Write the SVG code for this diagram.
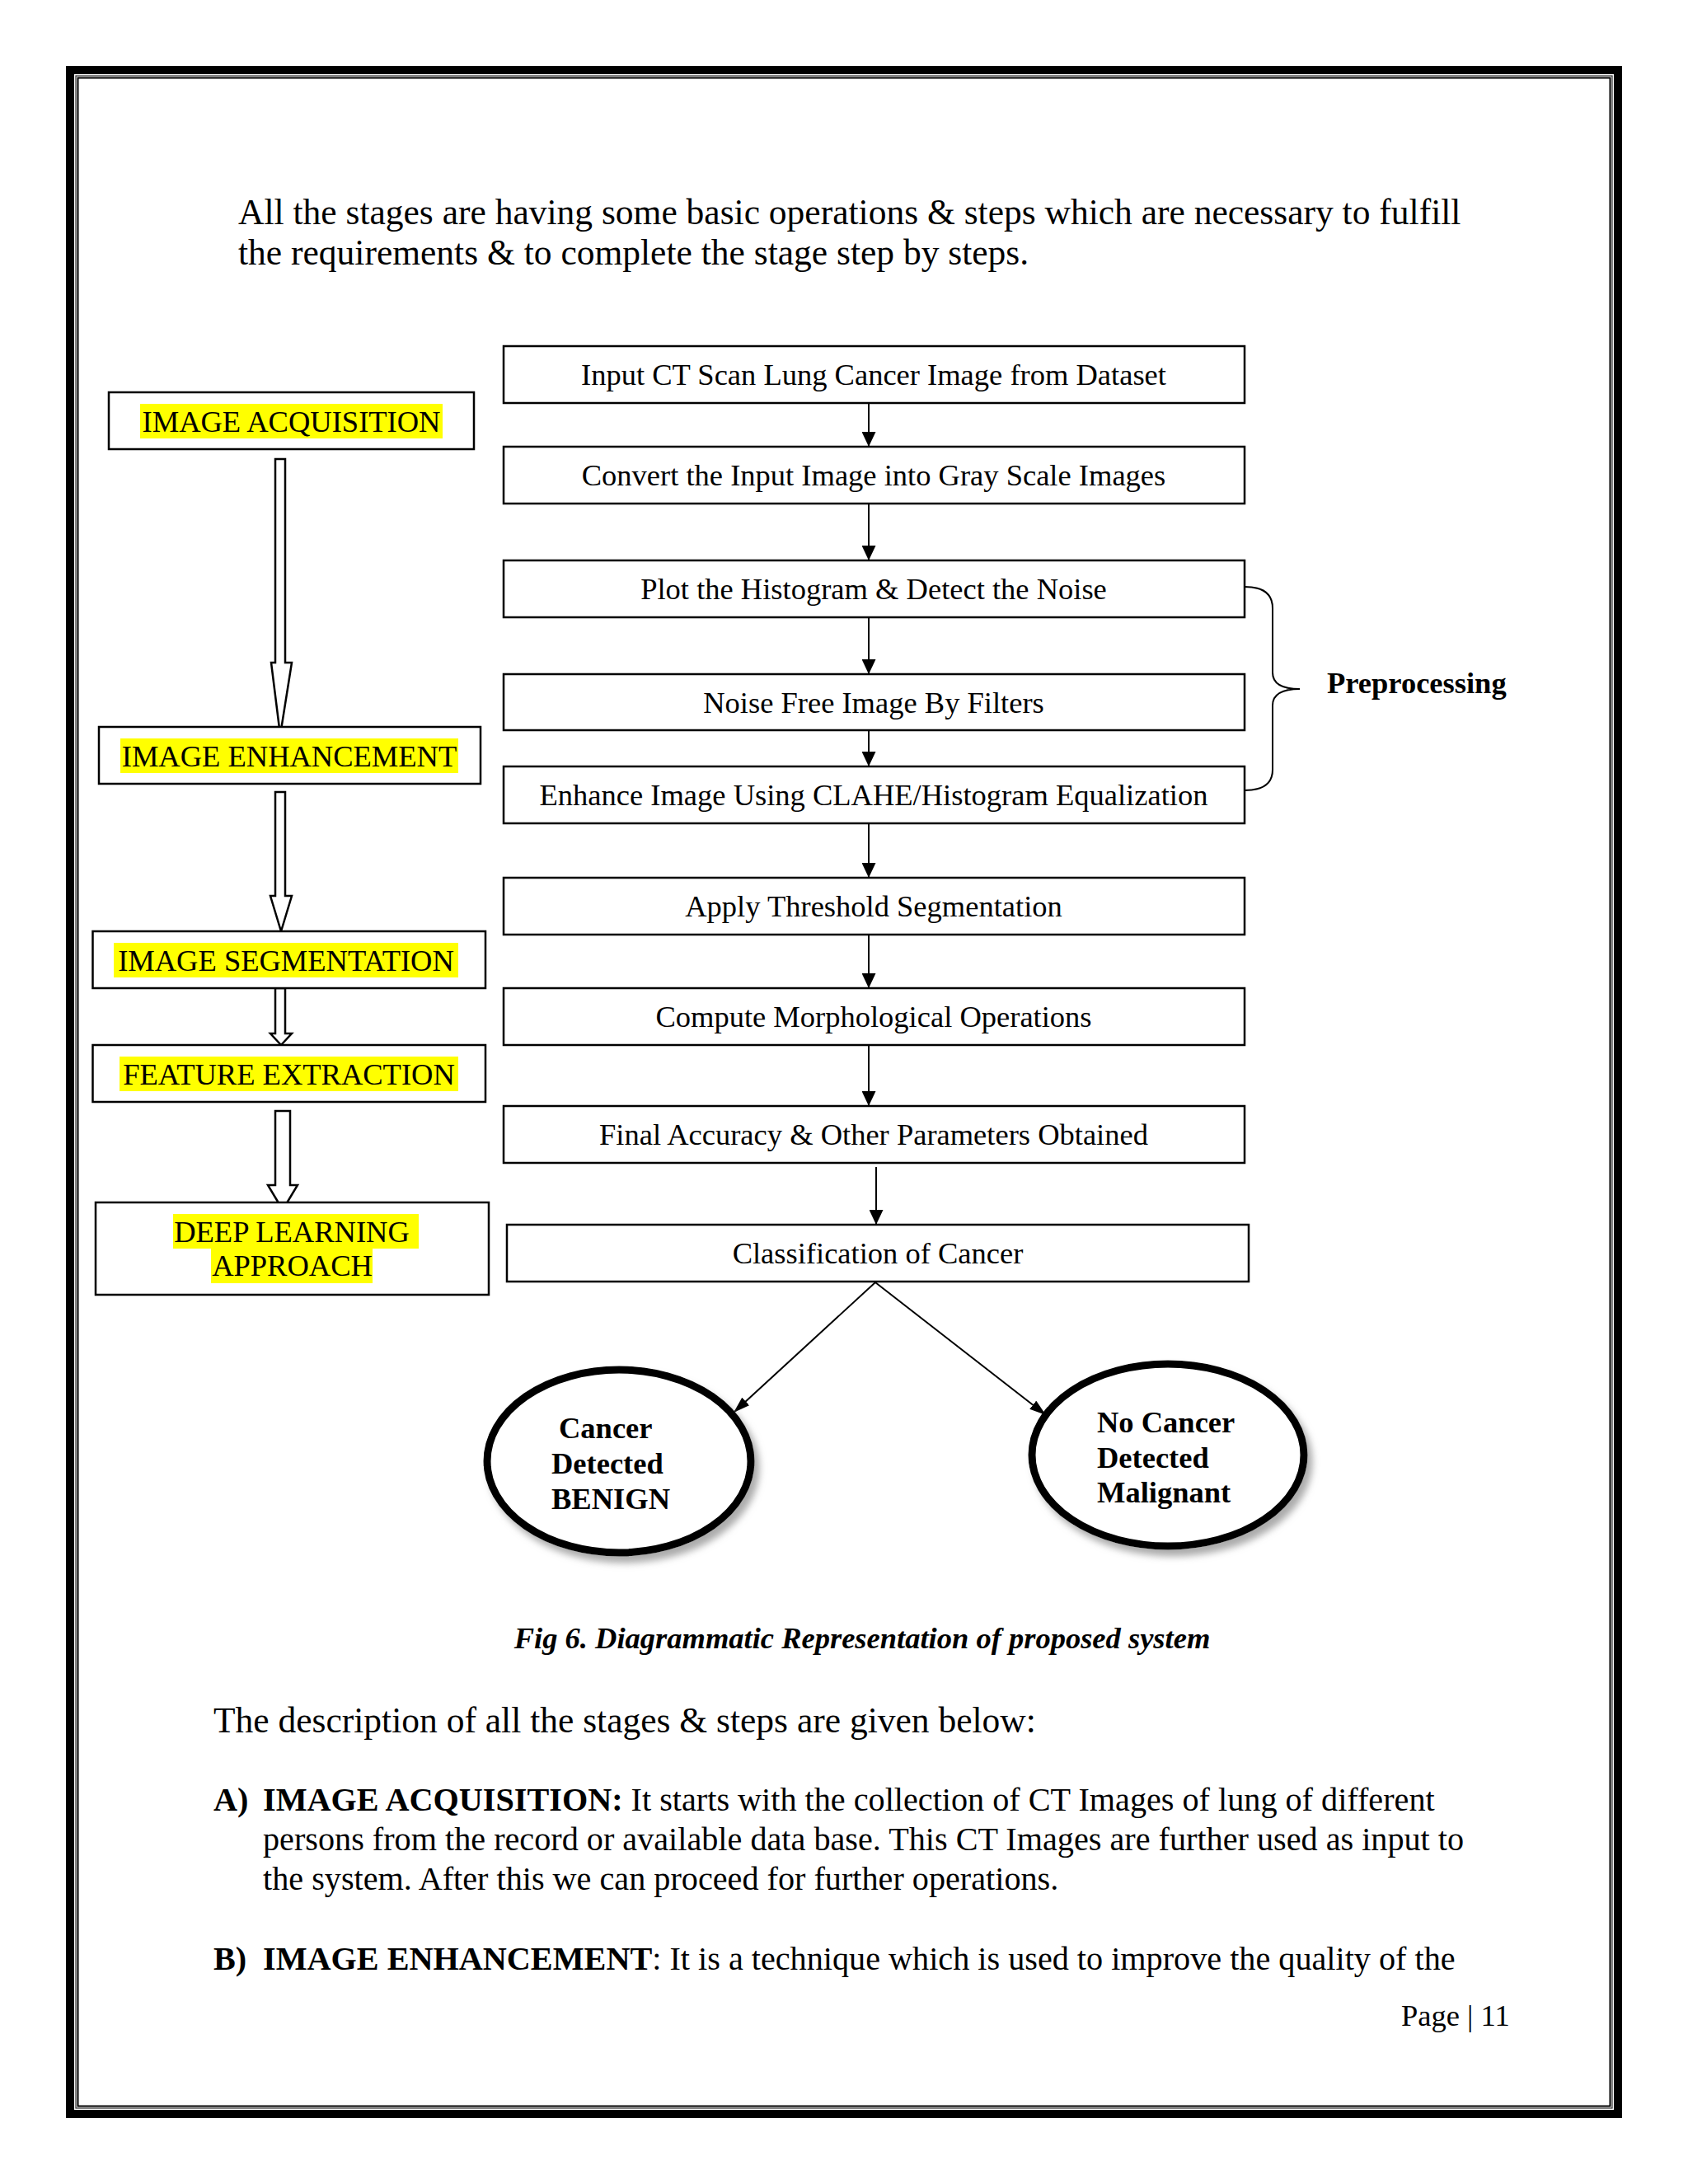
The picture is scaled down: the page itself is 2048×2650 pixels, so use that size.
<svg xmlns="http://www.w3.org/2000/svg" width="2048" height="2650" viewBox="0 0 2048 2650">
<style>
  .serif { font-family: "Liberation Serif", "Times New Roman", serif; fill: #000; }
  .body { font-size: 43.5px; }
  .para { font-size: 40.2px; }
  .lbl { font-size: 36.5px; }
  .b { font-weight: bold; }
  .box { fill: #fff; stroke: #000; stroke-width: 2.5; }
  .hl { fill: #ffff00; }
  .hollow { fill: #fff; stroke: #000; stroke-width: 2.5; stroke-linejoin: miter; }
  .conn { stroke: #000; stroke-width: 2; fill: none; }
  .ell { fill: #fff; stroke: #000; stroke-width: 9; }
</style>
<defs>
  <marker id="ah" viewBox="0 0 18 17" refX="18" refY="8.5" markerWidth="18" markerHeight="17" markerUnits="userSpaceOnUse" orient="auto">
    <path d="M0,0 L18,8.5 L0,17 z" fill="#000"/>
  </marker>
  <marker id="ahd" viewBox="0 0 20 13" refX="20" refY="6.5" markerWidth="20" markerHeight="13" markerUnits="userSpaceOnUse" orient="auto">
    <path d="M0,0 L20,6.5 L0,13 z" fill="#000"/>
  </marker>
  <filter id="sh" x="-20%" y="-20%" width="150%" height="150%">
    <feDropShadow dx="6" dy="8" stdDeviation="4" flood-color="#888" flood-opacity="0.7"/>
  </filter>
</defs>

<rect x="0" y="0" width="2048" height="2650" fill="#fff"/>

<!-- page frame -->
<g id="frame" fill="none">
  <rect x="85" y="85" width="1878" height="2480" stroke="#000" stroke-width="10"/>
  <rect x="92" y="92" width="1864" height="2466" stroke="#333" stroke-width="1.2"/>
  <rect x="94.5" y="94.5" width="1859" height="2461" stroke="#000" stroke-width="2"/>
</g>

<!-- intro text -->
<g id="intro" class="serif body">
  <text x="289" y="272">All the stages are having some basic operations &amp; steps which are necessary to fulfill</text>
  <text x="289" y="321">the requirements &amp; to complete the stage step by steps.</text>
</g>

<!-- connectors -->
<g id="connectors">
  <line class="conn" x1="1054" y1="489" x2="1054" y2="542" marker-end="url(#ah)"/>
  <line class="conn" x1="1054" y1="611" x2="1054" y2="680" marker-end="url(#ah)"/>
  <line class="conn" x1="1054" y1="749" x2="1054" y2="818" marker-end="url(#ah)"/>
  <line class="conn" x1="1054" y1="886" x2="1054" y2="930" marker-end="url(#ah)"/>
  <line class="conn" x1="1054" y1="999" x2="1054" y2="1065" marker-end="url(#ah)"/>
  <line class="conn" x1="1054" y1="1134" x2="1054" y2="1199" marker-end="url(#ah)"/>
  <line class="conn" x1="1054" y1="1268" x2="1054" y2="1342" marker-end="url(#ah)"/>
  <line class="conn" x1="1063" y1="1416" x2="1063" y2="1486" marker-end="url(#ah)"/>
  <line class="conn" x1="1062" y1="1556" x2="890" y2="1714" marker-end="url(#ahd)"/>
  <line class="conn" x1="1062" y1="1556" x2="1269" y2="1717" marker-end="url(#ahd)"/>
  <!-- hollow block arrows (stages) -->
  <path class="hollow" d="M334,557 L346,557 L346,804 L354,804 L340,892 L329,804 L334,804 Z"/>
  <path class="hollow" d="M334,961 L346,961 L346,1087 L354,1087 L341,1130 L328,1087 L334,1087 Z"/>
  <path class="hollow" d="M334,1199 L346,1199 L346,1254 L354,1254 L341,1268 L328,1254 L334,1254 Z"/>
  <path class="hollow" d="M334,1348 L352,1348 L352,1438 L361,1438 L343,1468 L325,1438 L334,1438 Z"/>
  <!-- preprocessing brace -->
  <path class="conn" stroke-width="2.5" d="M1510,712 Q1544,712 1544,738 L1544,816 Q1544,836 1577,836 Q1544,836 1544,856 L1544,934 Q1544,959 1510,959"/>
</g>

<!-- left stage column -->
<g id="stage-acquisition">
  <rect class="box" x="132" y="476" width="443" height="69"/>
  <rect class="hl" x="170" y="490" width="367" height="42"/>
  <text class="serif lbl" x="353.5" y="524" text-anchor="middle">IMAGE ACQUISITION</text>
</g>
<g id="stage-enhancement">
  <rect class="box" x="120" y="882" width="463" height="69"/>
  <rect class="hl" x="146" y="896" width="410" height="42"/>
  <text class="serif lbl" x="351" y="930" text-anchor="middle">IMAGE ENHANCEMENT</text>
</g>
<g id="stage-segmentation">
  <rect class="box" x="112.5" y="1130" width="476.5" height="69"/>
  <rect class="hl" x="138" y="1144" width="418" height="42"/>
  <text class="serif lbl" x="347" y="1178" text-anchor="middle">IMAGE SEGMENTATION</text>
</g>
<g id="stage-feature">
  <rect class="box" x="112.5" y="1268" width="476.5" height="69"/>
  <rect class="hl" x="145" y="1282" width="411" height="42"/>
  <text class="serif lbl" x="350.5" y="1316" text-anchor="middle">FEATURE EXTRACTION</text>
</g>
<g id="stage-deep">
  <rect class="box" x="116" y="1459" width="477" height="112"/>
  <rect class="hl" x="210" y="1473" width="298" height="42"/>
  <rect class="hl" x="256" y="1515" width="196" height="42"/>
  <text class="serif lbl" x="354" y="1507" text-anchor="middle">DEEP LEARNING</text>
  <text class="serif lbl" x="354.5" y="1548" text-anchor="middle">APPROACH</text>
</g>

<!-- right step column -->
<g id="step-input">
  <rect class="box" x="611" y="420" width="899" height="69"/>
  <text class="serif lbl" x="1060" y="467" text-anchor="middle">Input CT Scan Lung Cancer Image from Dataset</text>
</g>
<g id="step-gray">
  <rect class="box" x="611" y="542" width="899" height="69"/>
  <text class="serif lbl" x="1060" y="589" text-anchor="middle">Convert the Input Image into Gray Scale Images</text>
</g>
<g id="step-histogram">
  <rect class="box" x="611" y="680" width="899" height="69"/>
  <text class="serif lbl" x="1060" y="727" text-anchor="middle">Plot the Histogram &amp; Detect the Noise</text>
</g>
<g id="step-filter">
  <rect class="box" x="611" y="818" width="899" height="68"/>
  <text class="serif lbl" x="1060" y="865" text-anchor="middle">Noise Free Image By Filters</text>
</g>
<g id="step-clahe">
  <rect class="box" x="611" y="930" width="899" height="69"/>
  <text class="serif lbl" x="1060" y="977" text-anchor="middle">Enhance Image Using CLAHE/Histogram Equalization</text>
</g>
<g id="step-threshold">
  <rect class="box" x="611" y="1065" width="899" height="69"/>
  <text class="serif lbl" x="1060" y="1112" text-anchor="middle">Apply Threshold Segmentation</text>
</g>
<g id="step-morph">
  <rect class="box" x="611" y="1199" width="899" height="69"/>
  <text class="serif lbl" x="1060" y="1246" text-anchor="middle">Compute Morphological Operations</text>
</g>
<g id="step-accuracy">
  <rect class="box" x="611" y="1342" width="899" height="69"/>
  <text class="serif lbl" x="1060" y="1389" text-anchor="middle">Final Accuracy &amp; Other Parameters Obtained</text>
</g>
<g id="step-classify">
  <rect class="box" x="615" y="1486" width="900" height="69"/>
  <text class="serif lbl" x="1065" y="1533" text-anchor="middle">Classification of Cancer</text>
</g>

<g id="label-preprocessing">
  <text class="serif lbl b" x="1610" y="841">Preprocessing</text>
</g>

<!-- outcomes -->
<g id="outcome-benign">
  <ellipse class="ell" cx="751" cy="1773" rx="160" ry="111" filter="url(#sh)"/>
  <text class="serif lbl b" x="678" y="1745">Cancer</text>
  <text class="serif lbl b" x="669" y="1788">Detected</text>
  <text class="serif lbl b" x="669" y="1831">BENIGN</text>
</g>
<g id="outcome-malignant">
  <ellipse class="ell" cx="1417" cy="1765.5" rx="165" ry="110.5" filter="url(#sh)"/>
  <text class="serif lbl b" x="1331" y="1738">No Cancer</text>
  <text class="serif lbl b" x="1331" y="1781">Detected</text>
  <text class="serif lbl b" x="1331" y="1823">Malignant</text>
</g>

<!-- caption and body -->
<g id="caption">
  <text class="serif lbl b" font-style="italic" x="1046" y="2000" text-anchor="middle">Fig 6. Diagrammatic Representation of proposed system</text>
</g>
<g id="body-text" class="serif">
  <text class="body" x="259" y="2102">The description of all the stages &amp; steps are given below:</text>
  <text class="para" y="2197"><tspan x="259" class="b">A)</tspan><tspan x="319" class="b">IMAGE ACQUISITION:</tspan> It starts with the collection of CT Images of lung of different</text>
  <text class="para" x="319" y="2245">persons from the record or available data base. This CT Images are further used as input to</text>
  <text class="para" x="319" y="2293">the system. After this we can proceed for further operations.</text>
  <text class="para" y="2390"><tspan x="259" class="b">B)</tspan><tspan x="319" class="b">IMAGE ENHANCEMENT</tspan>: It is a technique which is used to improve the quality of the</text>
</g>
<g id="page-number">
  <text class="serif lbl" x="1700" y="2458">Page | 11</text>
</g>
</svg>
